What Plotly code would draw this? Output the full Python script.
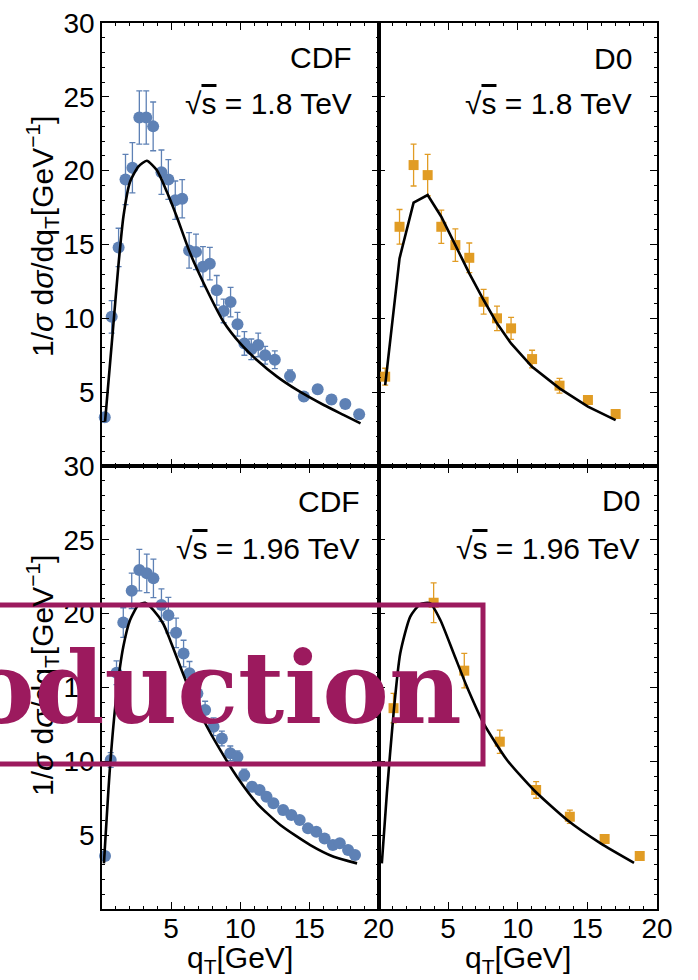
import plotly.graph_objects as go

# ---------------- data ----------------
# CDF, sqrt(s)=1.8 TeV
cdf18_qt = [0.2, 0.7, 1.2, 1.7, 2.2, 2.7, 3.2, 3.7, 4.3, 4.8, 5.3, 5.8, 6.3, 6.8, 7.3, 7.8,
            8.3, 8.8, 9.3, 9.8, 10.3, 10.8, 11.3, 11.8, 12.5, 13.6, 14.6, 15.6, 16.6, 17.6, 18.6]
cdf18_val = [3.3, 10.1, 14.8, 19.4, 20.2, 23.6, 23.6, 23.0, 19.9, 19.4, 18.0, 18.1, 14.6, 14.5, 13.5, 13.7,
             11.9, 10.5, 11.1, 9.6, 8.3, 7.9, 8.2, 7.5, 7.2, 6.1, 4.7, 5.2, 4.5, 4.2, 3.5]
cdf18_err = [0.3, 1.1, 1.3, 1.7, 1.7, 1.8, 1.8, 1.65, 1.5, 1.35, 1.3, 1.3, 1.2, 1.2, 1.35, 1.1,
             1.0, 0.8, 1.0, 0.8, 0.8, 0.7, 0.8, 0.6, 0.6, 0.4, 0.3, 0.3, 0.3, 0.3, 0.3]
cdf18_th_qt = [0.22, 0.77, 1.18, 1.55, 2.03, 2.63, 3.24, 3.96, 4.69, 5.41, 6.38, 7.59, 8.79, 10.0,
               11.2, 12.66, 14.1, 16.04, 17.5, 18.7]
cdf18_th = [3.0, 9.0, 13.5, 16.9, 19.25, 20.27, 20.67, 20.04, 18.57, 16.88, 14.4, 11.92, 9.77, 8.3,
            7.18, 6.05, 5.15, 4.13, 3.45, 2.89]

# D0, sqrt(s)=1.8 TeV
d018_qt = [0.48, 1.51, 2.52, 3.53, 4.51, 5.52, 6.52, 7.55, 8.51, 9.52, 11.03, 13.0, 15.04, 17.03]
d018_val = [6.05, 16.2, 20.38, 19.7, 16.2, 14.96, 14.1, 11.12, 10.0, 9.32, 7.24, 5.44, 4.47, 3.52]
d018_err = [0.57, 1.17, 1.42, 1.4, 1.13, 1.1, 1.0, 0.84, 0.83, 0.75, 0.6, 0.5, 0.3, 0.2]
d018_th_qt = [0.48, 1.51, 2.52, 3.53, 4.51, 5.52, 6.52, 7.55, 8.51, 9.52, 11.03, 13.0, 15.04, 17.03]
d018_th = [5.48, 14.06, 17.83, 18.35, 16.88, 14.96, 13.05, 11.24, 9.66, 8.3, 6.72, 5.26, 4.02, 3.11]

# CDF, sqrt(s)=1.96 TeV
cdf196_qt = [0.22, 0.63, 1.05, 1.54, 2.15, 2.7, 3.24, 3.72, 4.3, 4.8, 5.36, 5.9, 6.33, 6.9, 7.46, 8.07,
             8.67, 9.28, 9.8, 10.29, 10.85, 11.4, 11.9, 12.4, 13.1, 13.7, 14.3, 14.9, 15.5, 16.1,
             16.7, 17.2, 17.8, 18.3]
cdf196_val = [3.59, 10.09, 16.0, 19.4, 21.55, 22.95, 22.73, 22.39, 20.58, 19.9, 18.7, 17.3, 15.96, 14.6,
              13.47, 12.34, 11.55, 10.54, 10.3, 9.07, 8.28, 8.06, 7.6, 7.16, 6.7, 6.36, 6.03, 5.46,
              5.23, 4.78, 4.33, 4.45, 4.0, 3.66]
cdf196_err = [0.3, 0.5, 0.8, 1.0, 1.2, 1.4, 1.3, 1.3, 1.1, 1.2, 1.0, 0.9, 0.8, 0.7, 0.6, 0.6,
              0.5, 0.5, 0.4, 0.4, 0.3, 0.3, 0.3, 0.3, 0.3, 0.2, 0.2, 0.2, 0.2, 0.2, 0.2, 0.2, 0.2, 0.2]
cdf196_th_qt = [0.14, 0.58, 1.06, 1.54, 2.03, 2.63, 3.12, 3.72, 4.44, 4.93, 6.14, 7.34, 8.55, 9.76,
                11.21, 12.9, 15.07, 16.76, 18.45]
cdf196_th = [3.09, 9.63, 14.6, 17.76, 19.57, 20.58, 20.74, 20.24, 19.3, 18.2, 15.28, 12.8, 10.77, 8.96,
             7.16, 5.69, 4.33, 3.54, 3.09]

# D0, sqrt(s)=1.96 TeV
d0196_qt = [1.08, 3.96, 6.16, 8.71, 11.32, 13.74, 16.24, 18.76]
d0196_val = [13.6, 20.74, 16.14, 11.33, 8.06, 6.25, 4.74, 3.59]
d0196_err = [1.0, 1.35, 1.17, 0.79, 0.56, 0.45, 0.2, 0.1]
d0196_th_qt = [0.24, 0.6, 1.08, 1.56, 2.28, 3.0, 3.72, 4.44, 5.4, 6.35, 7.55, 9.23, 11.15, 13.55,
               15.95, 18.35]
d0196_th = [3.09, 7.83, 13.25, 17.3, 19.8, 20.65, 20.7, 19.57, 17.3, 15.05, 12.57, 10.09, 8.06, 6.03,
            4.45, 3.13]

x_ticks = [5, 10, 15, 20]
y_ticks = [5, 10, 15, 20, 25, 30]
exp_labels = ["CDF", "D0", "CDF", "D0"]
energy_labels = ["1.8", "1.8", "1.96", "1.96"]

# ---------------- style ----------------
W, H = 698, 980
BLUE = "#5e81b5"
ORANGE = "#e19c24"
STAMP = "#9c1a5e"
FONT = "Liberation Sans"


def px(x):
    return x / W


def py(y):
    return 1 - y / H


fig = go.Figure()

panels = [
    (cdf18_qt, cdf18_val, cdf18_err, cdf18_th_qt, cdf18_th, BLUE, "circle", 12, "x", "y", "spline"),
    (d018_qt, d018_val, d018_err, d018_th_qt, d018_th, ORANGE, "square", 10, "x2", "y2", "linear"),
    (cdf196_qt, cdf196_val, cdf196_err, cdf196_th_qt, cdf196_th, BLUE, "circle", 12, "x3", "y3", "spline"),
    (d0196_qt, d0196_val, d0196_err, d0196_th_qt, d0196_th, ORANGE, "square", 10, "x4", "y4", "spline"),
]
for qt, val, err, tq, th, col, sym, sz, xa, ya, shape in panels:
    fig.add_trace(go.Scatter(
        x=qt, y=val, mode="markers", xaxis=xa, yaxis=ya,
        marker=dict(color=col, symbol=sym, size=sz, line=dict(width=0)),
        error_y=dict(type="data", array=err, color=col, thickness=1.3, width=3),
        showlegend=False, cliponaxis=False))
    fig.add_trace(go.Scatter(
        x=tq, y=th, mode="lines", xaxis=xa, yaxis=ya, line_shape=shape,
        line=dict(color="black", width=2.6, smoothing=0.6) if shape == "spline"
        else dict(color="black", width=2.6),
        showlegend=False))

xdoms = [[px(102), px(378.5)], [px(378.5), px(657)]]
ydoms = [[py(466), py(23)], [py(909), py(466)]]


def xax(dom, anchor, labels):
    return dict(domain=dom, anchor=anchor, range=[0, 20], tickvals=x_ticks,
                showticklabels=labels, ticks="inside", ticklen=7, tickwidth=1.3,
                tickcolor="black", showline=True, linecolor="black", linewidth=1.5,
                mirror="allticks", showgrid=False, zeroline=False, automargin=False,
                ticklabelstandoff=-6,
                minor=dict(ticks="inside", dtick=1, ticklen=3, tickwidth=1, tickcolor="black"),
                tickfont=dict(family=FONT, size=28, color="black"))


def yax(dom, anchor, labels):
    return dict(domain=dom, anchor=anchor, range=[0, 30], tickvals=y_ticks,
                showticklabels=labels, ticks="inside", ticklen=7, tickwidth=1.3,
                tickcolor="black", showline=True, linecolor="black", linewidth=1.5,
                mirror="allticks", showgrid=False, zeroline=False, automargin=False,
                minor=dict(ticks="inside", dtick=1, ticklen=3, tickwidth=1, tickcolor="black"),
                tickfont=dict(family=FONT, size=28, color="black"))


fig.update_layout(
    width=W, height=H, margin=dict(l=0, r=0, t=0, b=0),
    paper_bgcolor="white", plot_bgcolor="white",
    font=dict(family=FONT, color="black"),
    xaxis=xax(xdoms[0], "y", False), yaxis=yax(ydoms[0], "x", True),
    xaxis2=xax(xdoms[1], "y2", False), yaxis2=yax(ydoms[0], "x2", False),
    xaxis3=xax(xdoms[0], "y3", True), yaxis3=yax(ydoms[1], "x3", True),
    xaxis4=xax(xdoms[1], "y4", True), yaxis4=yax(ydoms[1], "x4", False),
)

ann = []
# experiment / energy labels
pos = [(354, 57, 103), (634, 58, 104), (362, 501, 548), (642, 500, 548)]
for (xr, yexp, yen), e, en in zip(pos, exp_labels, energy_labels):
    ann.append(dict(x=px(xr), y=py(yexp), xref="paper", yref="paper", xanchor="right",
                    yanchor="middle", showarrow=False, text=e,
                    font=dict(family=FONT, size=30, color="black")))
    ann.append(dict(x=px(xr), y=py(yen), xref="paper", yref="paper", xanchor="right",
                    yanchor="middle", showarrow=False,
                    text="√<span style=\"text-decoration:overline\">s</span> = " + en + " TeV",
                    font=dict(family=FONT, size=30, color="black")))
# axis titles
ytitle = "1/<i>σ</i> d<i>σ</i>/dq<sub>T</sub>[GeV<sup>−1</sup>]"
for yc in (237, 676):
    ann.append(dict(x=px(42), y=py(yc), xref="paper", yref="paper", xanchor="center",
                    yanchor="middle", textangle=-90, showarrow=False, text=ytitle,
                    font=dict(family=FONT, size=30, color="black")))
for xc in (240, 518):
    ann.append(dict(x=px(xc), y=py(959), xref="paper", yref="paper", xanchor="center",
                    yanchor="middle", showarrow=False, text="q<sub>T</sub>[GeV]",
                    font=dict(family=FONT, size=30, color="black")))
# stamp overlay
ann.append(dict(x=px(464), y=py(688), xref="paper", yref="paper", xanchor="right",
                yanchor="middle", showarrow=False, text="<b>Production</b>",
                font=dict(family="DejaVu Serif", size=100, color=STAMP)))
fig.update_layout(annotations=ann)
fig.add_shape(type="rect", xref="paper", yref="paper", x0=px(-10), x1=px(483),
              y0=py(764), y1=py(605), line=dict(color=STAMP, width=5), layer="above")

fig.write_html("out.html")
